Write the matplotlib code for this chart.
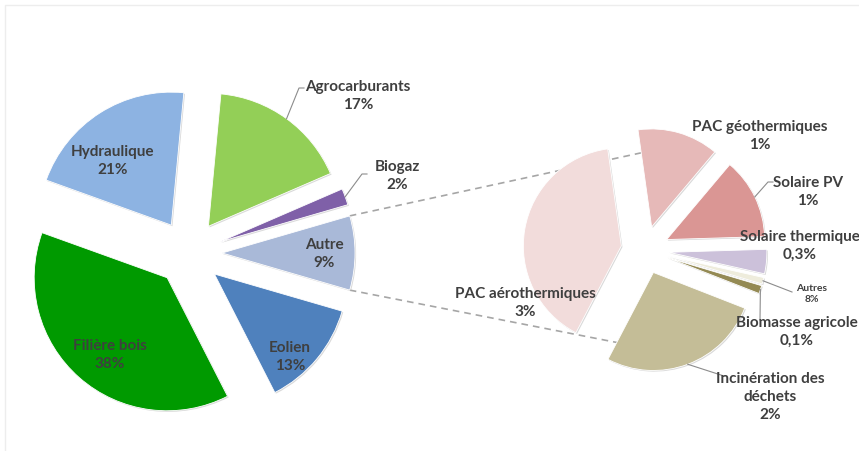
import numpy as np
import matplotlib
matplotlib.use("Agg")
import matplotlib.pyplot as plt
import matplotlib.patheffects as pe
from matplotlib.patches import Rectangle

# Production renouvelable par filière (%)
main_labels = ["Autre", "Biogaz", "Agrocarburants", "Hydraulique", "Filière bois", "Eolien"]
main_values = [9, 2, 17, 21, 38, 13]
main_colors = ["#A9B9D8", "#7F60A8", "#93CF57", "#8DB3E2", "#009A00", "#4F81BD"]

# Détail de la part "Autre" (%)
detail_labels = ["PAC géothermiques", "Solaire PV", "Solaire thermique", "Autres",
                 "Biomasse agricole", "Incinération des\ndéchets", "PAC aérothermiques"]
detail_values = [1, 1, 0.3, 0.08, 0.1, 2, 3]
detail_texts = ["1%", "1%", "0,3%", "8%", "0,1%", "2%", "3%"]
detail_colors = ["#E6B9B8", "#DA9694", "#CCC1DA", "#EEECDC", "#948A54", "#C4BD97", "#F2DCDB"]

W, H = 859, 451
TEXT = "#3F3F3F"


def img(x, y):
    # image-style coordinates (y down) -> axes data (y up)
    return x, H - y


def arc_point(wedge, frac=1.0):
    theta = np.radians((wedge.theta1 + wedge.theta2) / 2)
    cx, cy = wedge.center
    return cx + frac * wedge.r * np.cos(theta), cy + frac * wedge.r * np.sin(theta)


def leader(ax, wedge, x, y, stub=5):
    px, py = arc_point(wedge)
    lx, ly = img(x, y)
    ax.plot([px, lx, lx + stub], [py, ly, ly], color="#8c8c8c", lw=0.8, zorder=3)


def label(ax, x, y, name, text, size=11, ha="center"):
    lx, ly = img(x, y)
    ax.text(lx, ly, "{}\n{}".format(name, text), ha=ha, va="center", fontsize=size,
            fontweight="bold", color=TEXT, family=["Lato", "DejaVu Sans"],
            linespacing=1.4, zorder=5)


fig = plt.figure(figsize=(W / 100, H / 100), dpi=100)
ax = fig.add_axes([0, 0, 1, 1])

shadow = [pe.SimplePatchShadow(offset=(0.8, -0.8), shadow_rgbFace="0.7", alpha=0.5), pe.Normal()]
wprops = dict(edgecolor="white", linewidth=0.6, path_effects=shadow)

main_wedges, _ = ax.pie(main_values, colors=main_colors, radius=133, center=img(189, 253),
                        explode=[33] * len(main_values), startangle=-main_values[0] * 3.6 / 2,
                        counterclock=True, wedgeprops=wprops, frame=False)

detail_wedges, _ = ax.pie(detail_values, colors=detail_colors, radius=98, center=img(645, 250),
                          explode=[24] * len(detail_values), startangle=98,
                          counterclock=False, wedgeprops=wprops, normalize=True, frame=False)

for w in list(main_wedges) + list(detail_wedges):
    w.set_zorder(2)

# dashed links between "Autre" and the detail pie
autre = main_wedges[0]
cx2, cy2 = img(645, 250)
for ang, ty in [(autre.theta2, cy2 + 98), (autre.theta1, cy2 - 98)]:
    sx = autre.center[0] + autre.r * np.cos(np.radians(ang))
    sy = autre.center[1] + autre.r * np.sin(np.radians(ang))
    ax.plot([sx, cx2], [sy, ty], color="#A6A6A6", lw=1.2, ls=(0, (4, 3)), zorder=1)

# main pie labels
main_pos = {"Autre": (324, 254), "Biogaz": (397, 176), "Agrocarburants": (358, 96),
            "Hydraulique": (113, 161), "Filière bois": (110, 355), "Eolien": (290, 357)}
for name, val in zip(main_labels, main_values):
    x, y = main_pos[name]
    label(ax, x, y, name, "{}%".format(val))
leader(ax, main_wedges[2], 299, 88)
leader(ax, main_wedges[1], 362, 174)

# detail pie labels
detail_pos = [(760, 136), (808, 192), (800, 246), (812, 294), (797, 332), (770, 397), (525, 303)]
for name, txt, (x, y) in zip(detail_labels, detail_texts, detail_pos):
    label(ax, x, y, name, txt, size=7.5 if name == "Autres" else 11)
leader(ax, detail_wedges[1], 768, 182)
leader(ax, detail_wedges[3], 792, 292, stub=0)
leader(ax, detail_wedges[4], 760, 320, stub=0)
leader(ax, detail_wedges[5], 724, 376, stub=0)

# faint chart-area frame
ax.add_patch(Rectangle((5, -20), W + 20, H - 5 + 20, fill=False, edgecolor="#EDEDED", lw=1, zorder=0))

ax.set_xlim(0, W)
ax.set_ylim(0, H)
ax.set_aspect("equal")
ax.axis("off")
fig.savefig("out.png", dpi=100, facecolor="white")
